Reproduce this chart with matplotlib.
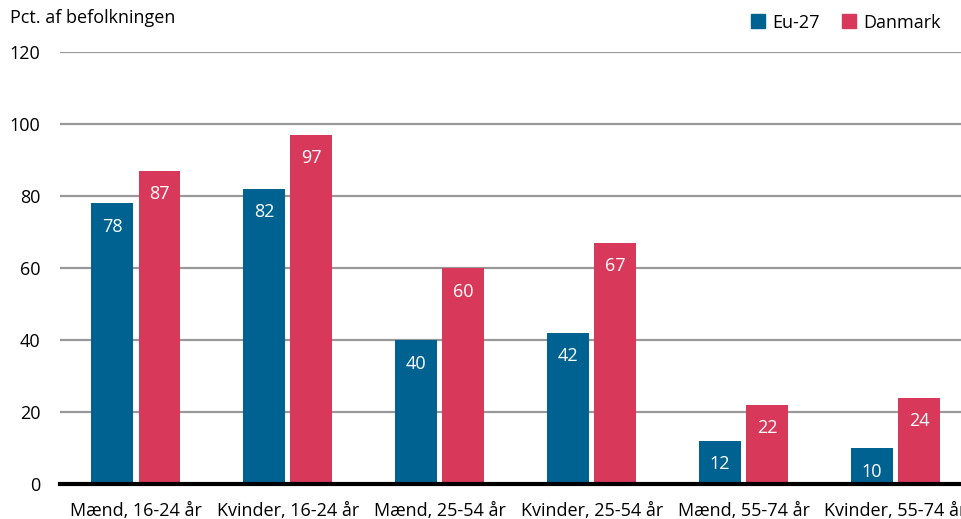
import matplotlib
matplotlib.use('Agg')
from matplotlib import pyplot as plt
from matplotlib.patches import Patch
import numpy as np

categories = ['Mænd, 16-24 år', 'Kvinder, 16-24 år', 'Mænd, 25-54 år',
              'Kvinder, 25-54 år', 'Mænd, 55-74 år', 'Kvinder, 55-74 år']
eu27 = [78, 82, 40, 42, 12, 10]
danmark = [87, 97, 60, 67, 22, 24]
yticks = [0, 20, 40, 60, 80, 100, 120]

blue = '#006291'
red = '#D8395A'

plt.rcParams['font.family'] = ['Open Sans', 'DejaVu Sans']
fs = 13

fig = plt.figure(figsize=(9.62, 5.19), dpi=100)
ax = fig.add_axes([60 / 962, 35 / 519, (971.5 - 60) / 962, 432 / 519])

x = np.arange(len(categories))
w = 0.276
off = 0.155
b1 = ax.bar(x - off, eu27, w, color=blue, zorder=3)
b2 = ax.bar(x + off, danmark, w, color=red, zorder=3)

# value labels inside the top of each bar
for bars, vals in [(b1, eu27), (b2, danmark)]:
    for b, v in zip(bars, vals):
        ax.annotate(str(v), (b.get_x() + b.get_width() / 2, v), xytext=(0, -17),
                    textcoords='offset points', ha='center', va='center',
                    color='white', fontsize=fs, zorder=4)

ax.set_xlim(-0.5, 5.5)
ax.set_ylim(0, 120)
ax.set_yticks(yticks)
ax.set_xticks(x)
ax.set_xticklabels(categories)
ax.yaxis.grid(True, color='#999999', linewidth=1.6, zorder=0)
for s in ['top', 'right', 'left']:
    ax.spines[s].set_visible(False)
ax.spines['bottom'].set_linewidth(3)
ax.spines['bottom'].set_color('black')
ax.spines['bottom'].set_zorder(5)
ax.tick_params(length=0, labelsize=fs)
ax.tick_params(axis='y', pad=14)
ax.tick_params(axis='x', pad=13)

fig.text(10 / 962, 1 - 18 / 519, 'Pct. af befolkningen', fontsize=fs, va='center', ha='left')

handles = [Patch(color=blue, label='Eu-27'), Patch(color=red, label='Danmark')]
fig.legend(handles=handles, loc='upper right', bbox_to_anchor=(0.995, 1.005), ncol=2,
           frameon=False, fontsize=fs, handlelength=0.8, handleheight=0.8,
           handletextpad=0.4, columnspacing=1.2)

fig.savefig('out.png', dpi=100)
